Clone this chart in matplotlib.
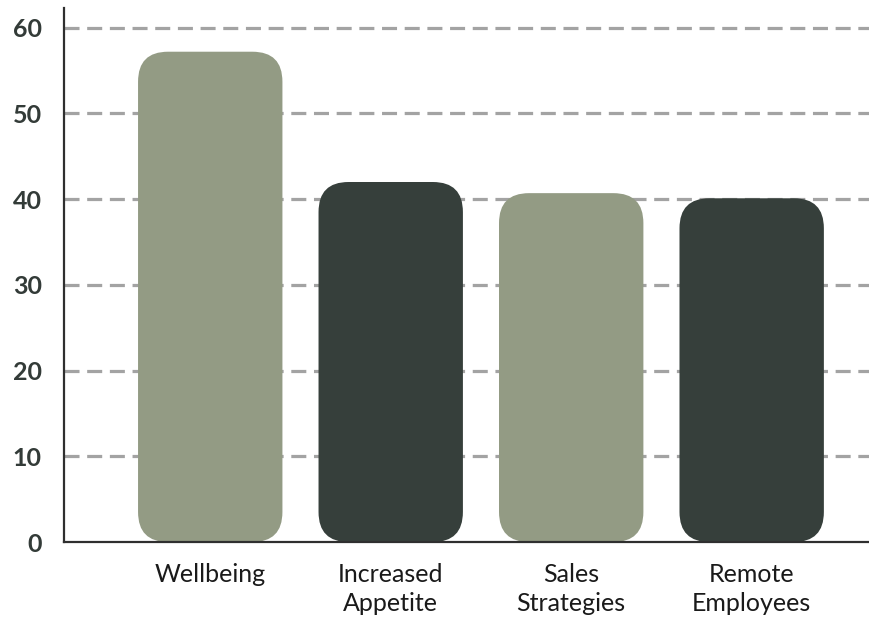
import matplotlib
matplotlib.use('Agg')
import matplotlib.pyplot as plt
from matplotlib.patches import FancyBboxPatch

# Survey topics and their scores
categories = ['Wellbeing', 'Increased\nAppetite', 'Sales\nStrategies', 'Remote\nEmployees']
values = [57.2, 42.0, 40.7, 40.1]
bar_colors = ['#939b84', '#363f3b', '#939b84', '#363f3b']
y_ticks = [0, 10, 20, 30, 40, 50, 60]

plt.rcParams['font.family'] = ['Lato', 'DejaVu Sans']

fig = plt.figure(figsize=(8.69, 6.2), dpi=100)
ax = fig.add_axes([0.0737, 0.1258, 0.9263, 0.8613])

x = list(range(len(categories)))
ax.set_xlim(-0.81, 3.65)
ax.set_ylim(0, 62.3)

# Dashed horizontal guides behind the bars
for t in y_ticks[1:]:
    ax.axhline(t, color='#a3a3a3', linewidth=2.3, dashes=(4.7, 2.4), zorder=1)

# Rounded bars: radius given in pixels, converted to data units on each axis
fig.canvas.draw()
px_x = (ax.get_xlim()[1] - ax.get_xlim()[0]) / ax.get_window_extent().width
px_y = (ax.get_ylim()[1] - ax.get_ylim()[0]) / ax.get_window_extent().height
radius_px = 30
bar_width = 0.8
for xi, v, c in zip(x, values, bar_colors):
    box = FancyBboxPatch((xi - bar_width / 2, 0), bar_width, v,
                         boxstyle=f'round,pad=0,rounding_size={radius_px * px_x}',
                         mutation_aspect=px_y / px_x,
                         facecolor=c, edgecolor='none', zorder=2)
    ax.add_patch(box)

ax.set_xticks(x)
ax.set_xticklabels(categories, fontsize=18, color='#1a1a1a', linespacing=1.35)
ax.set_yticks(y_ticks)
ax.set_yticklabels([str(t) for t in y_ticks], fontsize=18, fontweight='bold', color='#333b38')
ax.tick_params(axis='both', length=0)
ax.tick_params(axis='x', pad=15)
ax.tick_params(axis='y', pad=16)

for side in ['top', 'right']:
    ax.spines[side].set_visible(False)
for side in ['left', 'bottom']:
    ax.spines[side].set_color('#2f2f2f')
    ax.spines[side].set_linewidth(1.6)
    ax.spines[side].set_zorder(3)

fig.savefig('out.png', dpi=100)
